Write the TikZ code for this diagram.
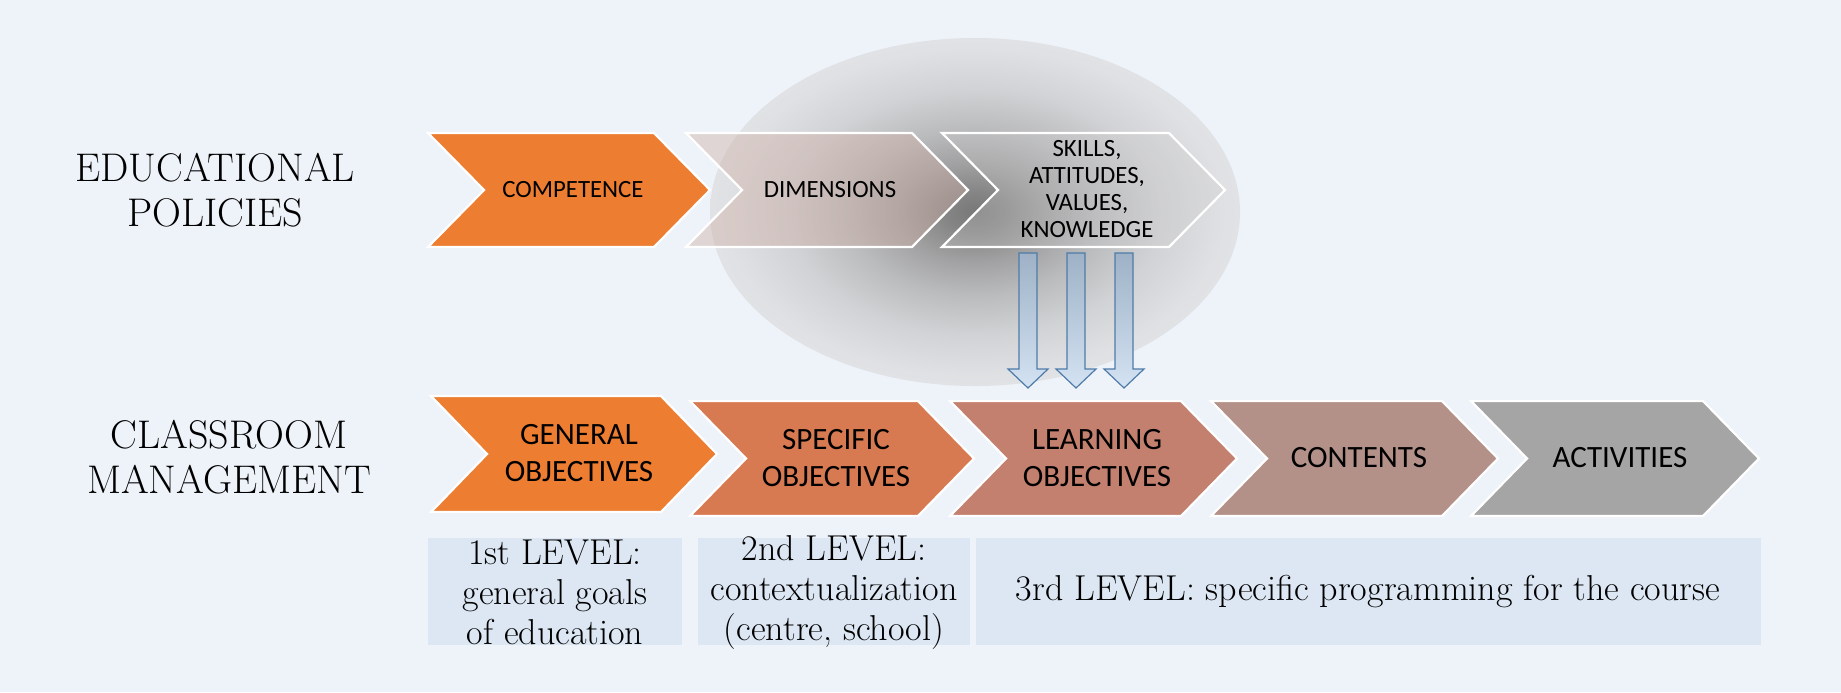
\documentclass[tikz,border=0pt]{standalone}
\usepackage{fontspec}
\newfontfamily\carl{Carlito}
\definecolor{bgc}{HTML}{EEF2F9}
\definecolor{orangeA}{HTML}{ED7D31}
\definecolor{specC}{HTML}{D77A52}
\definecolor{learnC}{HTML}{C4806F}
\definecolor{contC}{HTML}{B39189}
\definecolor{actC}{HTML}{A5A5A5}
\definecolor{boxC}{HTML}{DCE7F3}
\definecolor{dimC}{HTML}{CEAEA4}
\definecolor{arrD}{HTML}{4F7BA8}
\definecolor{arrT}{HTML}{9EB1C6}
\definecolor{arrB}{HTML}{D4E3F3}
\pgfdeclareradialshading{glow}{\pgfpoint{0bp}{0bp}}{rgb(0bp)=(.47,.47,.47); rgb(2.8bp)=(.52,.52,.52); rgb(7.1bp)=(.63,.63,.635); rgb(12bp)=(.73,.735,.74); rgb(17.7bp)=(.82,.825,.835); rgb(23.4bp)=(.875,.88,.89); rgb(29.7bp)=(.895,.905,.92); rgb(35.4bp)=(.905,.915,.93); rgb(50bp)=(.905,.915,.93)}
\newcommand\chev[5]{\draw[chev,#5] (#1,#2) -- ({#1+#4-56},#2) -- ({#1+#4},{(#2+#3)/2}) -- ({#1+#4-56},#3) -- (#1,#3) -- ({#1+56},{(#2+#3)/2}) -- cycle;}
\newcommand\barrow[1]{\draw[arr] ({#1-9},253) -- ({#1+9},253) -- ({#1+9},369) -- ({#1+20},369) -- (#1,388) -- ({#1-20},369) -- ({#1-9},369) -- cycle;}
\begin{document}
\begin{tikzpicture}[x=0.5pt,y=-0.5pt,
  chev/.style={draw=white, line width=1.1pt, line join=miter},
  ctext/.style={font=\carl\fontsize{12.4}{13.6}\selectfont, align=center, inner sep=0},
  btext/.style={font=\carl\fontsize{15.5}{18.5}\selectfont, align=center, inner sep=0},
  lbl/.style={font=\fontsize{20}{22.5}\selectfont, align=center, inner sep=0},
  lvl/.style={font=\fontsize{18}{20}\selectfont, align=center, inner sep=0},
  arr/.style={draw=arrD, line width=0.6pt, top color=arrT, bottom color=arrB, line join=miter}]
\fill[bgc] (0,0) rectangle (1841,692);
% glow ellipse
\shade[shading=glow] (975,212) ellipse [x radius=265, y radius=174];
% left labels
\node[lbl] (ep) at (215,190) {EDUCATIONAL\\POLICIES};
\node[lbl] (cm) at (229,457) {CLASSROOM\\MANAGEMENT};
% top row
\chev{428}{133}{247}{282}{fill=orangeA}
\chev{686}{133}{247}{282}{fill=dimC, fill opacity=0.42}
\chev{942}{133}{247}{283}{fill=black!20, fill opacity=0.3}
\node[ctext] (comp) at (573,190) {COMPETENCE};
\node[ctext] (dim) at (830,190) {DIMENSIONS};
\node[ctext] (sk) at (1087,189) {SKILLS,\\ATTITUDES,\\VALUES,\\KNOWLEDGE};
% bottom row
\chev{431}{396}{512}{286}{fill=orangeA}
\chev{690}{401}{516}{284}{fill=specC}
\chev{950}{401}{516}{287}{fill=learnC}
\chev{1211}{401}{516}{287}{fill=contC}
\chev{1471}{401}{516}{288}{fill=actC}
\node[btext] (go) at (579,453) {GENERAL\\OBJECTIVES};
\node[btext] (so) at (836,458) {SPECIFIC\\OBJECTIVES};
\node[btext] (lo) at (1097,458) {LEARNING\\OBJECTIVES};
\node[btext] (co) at (1359,458) {CONTENTS};
\node[btext] (ac) at (1620,458) {ACTIVITIES};
% arrows
\barrow{1028}
\barrow{1076}
\barrow{1124}
% level boxes
\fill[boxC] (428,538) rectangle (682,645);
\fill[boxC] (698,538) rectangle (970,645);
\fill[boxC] (976,538) rectangle (1761,645);
\node[lvl] (l1) at (555,592) {1st LEVEL:\\general goals\\of education};
\node[lvl] (l2) at (834,592) {2nd LEVEL:\\contextualization\\(centre, school)};
\node[lvl] (l3) at (1368,592) {3rd LEVEL: specific programming for the course};
\end{tikzpicture}
\end{document}
